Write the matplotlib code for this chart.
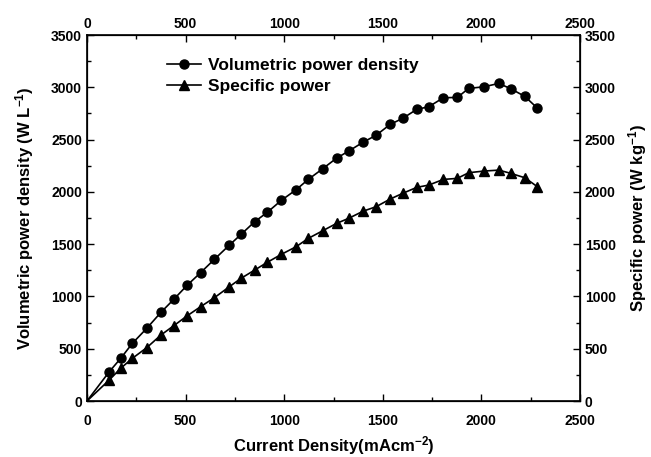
import numpy as np
import matplotlib.pyplot as plt
from matplotlib.ticker import MultipleLocator

plt.rcParams['font.family'] = ['Liberation Sans', 'DejaVu Sans']
plt.rcParams['font.weight'] = 'bold'
plt.rcParams['mathtext.fontset'] = 'custom'
plt.rcParams['mathtext.rm'] = 'Liberation Sans:bold'
plt.rcParams['mathtext.bf'] = 'Liberation Sans:bold'
plt.rcParams['mathtext.default'] = 'bf'

# current density (mA cm^-2)
current = [0, 113, 171, 230, 303, 375, 440, 509, 576, 646, 722, 781, 850, 914,
           985, 1060, 1122, 1195, 1266, 1327, 1401, 1466, 1537, 1601, 1672,
           1733, 1807, 1878, 1935, 2013, 2088, 2149, 2220, 2284]

# volumetric power density (W L^-1)
vol_power = [0, 280, 408, 551, 695, 848, 972, 1109, 1227, 1355, 1491, 1593,
             1714, 1804, 1918, 2020, 2119, 2221, 2323, 2390, 2476, 2541, 2645,
             2703, 2789, 2814, 2900, 2903, 2989, 3005, 3037, 2986, 2913, 2800]

# specific power (W kg^-1)
spec_power = [0, 201, 313, 408, 510, 631, 720, 816, 902, 988, 1093, 1173,
              1252, 1326, 1402, 1475, 1555, 1628, 1699, 1747, 1816, 1858, 1931,
              1986, 2043, 2065, 2119, 2129, 2183, 2199, 2208, 2177, 2135, 2049]


def style_ticks(a, **kw):
    a.tick_params(which='both', direction='in', labelsize=10, **kw)
    a.tick_params(which='major', length=5, width=1)
    a.tick_params(which='minor', length=3, width=1)


fig = plt.figure(figsize=(6.51, 4.57), dpi=100)
ax = fig.add_axes([0.1336, 0.1225, 0.7574, 0.8009])

mk = list(range(1, len(current)))
ax.plot(current, vol_power, color='black', lw=1.2, marker='o', ms=6.5,
        markevery=mk, label='Volumetric power density')
ax.plot(current, spec_power, color='black', lw=1.2, marker='^', ms=7,
        markevery=mk, label='Specific power')

ax.set_xlim(0, 2500)
ax.set_ylim(0, 3500)
ax.xaxis.set_major_locator(MultipleLocator(500))
ax.xaxis.set_minor_locator(MultipleLocator(250))
ax.yaxis.set_major_locator(MultipleLocator(500))
ax.yaxis.set_minor_locator(MultipleLocator(250))
style_ticks(ax, top=False, right=False)
ax.tick_params(axis='x', which='major', pad=9)
for s in ax.spines.values():
    s.set_linewidth(1.2)

ax.set_xlabel('Current Density(mAcm$^{-2}$)', fontsize=12, fontweight='bold', labelpad=5)
ax.set_ylabel('Volumetric power density (W L$^{-1}$)', fontsize=12, fontweight='bold', labelpad=11)

# top axis repeats the current density scale
ax_top = ax.twiny()
ax_top.set_xlim(0, 2500)
ax_top.xaxis.set_major_locator(MultipleLocator(500))
ax_top.xaxis.set_minor_locator(MultipleLocator(250))
style_ticks(ax_top, pad=3)

ax2 = ax.twinx()
ax2.set_ylim(0, 3500)
ax2.yaxis.set_major_locator(MultipleLocator(500))
ax2.yaxis.set_minor_locator(MultipleLocator(250))
style_ticks(ax2)
ax2.set_ylabel('Specific power (W kg$^{-1}$)', fontsize=12, fontweight='bold', labelpad=7)

ax.legend(loc='upper left', bbox_to_anchor=(0.13, 0.98), frameon=False,
          prop={'weight': 'bold', 'size': 12.5}, handlelength=2.0,
          handletextpad=0.4, labelspacing=0.35)

fig.savefig('out.png', dpi=100)
